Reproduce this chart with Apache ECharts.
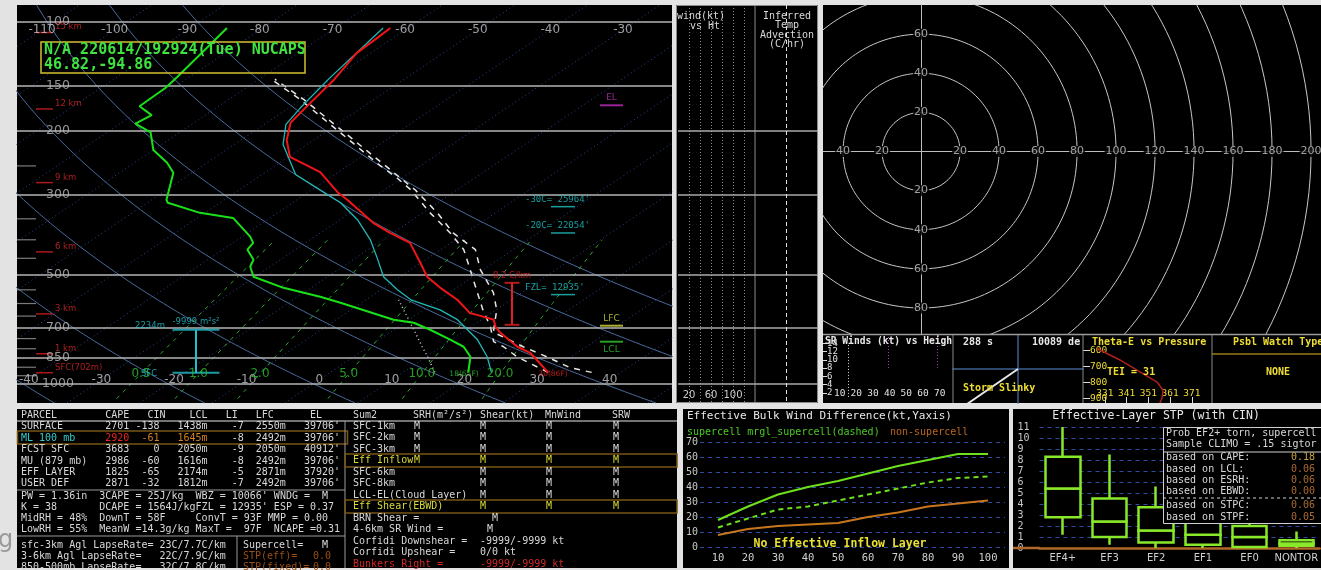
<!DOCTYPE html>
<html>
<head>
<meta charset="utf-8">
<title>NUCAPS sounding</title>
<script src="https://cdn.jsdelivr.net/npm/echarts@6.0.0/dist/echarts.min.js"></script>
<style>
  html, body { margin: 0; padding: 0; background: #e3e3e3; }
  #chart { width: 1321px; height: 570px; }
</style>
</head>
<body>
<div id="chart"></div>
<script>
// ---------- sounding profiles (pressure mb / deg C) ----------
const tempPres = [930, 821, 790, 723, 696, 665, 645, 637, 586, 543, 506, 463, 408, 383, 359, 310, 296, 260, 236, 212, 190, 175, 144, 122, 110, 104];
const tempC = [30.0, 23.5, 20.5, 15.3, 13.4, 11.7, 8.4, 7.0, 2.6, -2.2, -6.3, -10.1, -15.6, -20.4, -24.8, -33.1, -35.9, -42.5, -49.8, -53.7, -56.7, -57.6, -59.6, -61.9, -62.2, -62.4];
const dwptPres = [930, 842, 790, 756, 709, 678, 665, 625, 597, 575, 543, 506, 475, 454, 426, 408, 392, 348, 337, 316, 310, 261, 245, 226, 202, 191, 181, 171, 152, 142, 104];
const dwptC = [19.0, 16.1, 13.1, 9.9, 5.0, 1.3, -2.1, -8.3, -12.9, -16.9, -23.8, -30.2, -32.7, -33.7, -36.6, -37.2, -38.9, -45.1, -50.7, -57.2, -58.0, -62.6, -65.5, -70.0, -74.0, -77.9, -77.4, -80.9, -81.1, -81.7, -84.9];
const wetbPres = [930, 842, 756, 665, 625, 586, 550, 506, 446, 400, 352, 316, 264, 218, 192, 173, 143, 104];
const wetbC = [22.2, 18.4, 13.6, 6.7, 2.3, -3.8, -7.7, -12.3, -17.3, -21.7, -27.6, -33.4, -45.4, -53.3, -57.0, -58.4, -60.5, -63.4];
const parcelPres = [930, 842, 790, 765, 696, 625, 560, 484, 426, 383, 337, 291, 270, 249, 233, 216, 199, 164, 144];
const parcelC = [30.0, 22.5, 18.6, 16.2, 12.7, 8.2, 3.9, -1.8, -6.8, -12.1, -19.0, -26.4, -30.7, -35.7, -39.6, -44.0, -48.8, -60.1, -68.3];
const fcstPres = [930, 903, 842, 790, 720, 625, 560, 484, 426, 383, 337, 291, 249, 199, 164, 144];
const fcstC = [36.0, 32.1, 26.6, 21.3, 14.2, 10.1, 6.1, -0.4, -5.2, -11.7, -18.0, -25.8, -35.0, -48.2, -59.6, -67.8];
const dcapePres = [586, 723, 790, 842, 930];
const dcapeC = [-5.5, 3.6, 7.4, 10.2, 14.4];

const pressLevels = [100, 150, 200, 300, 500, 700, 850, 1000];
const pressTicks = [250, 350, 400, 450, 550, 600, 650, 750, 800, 900, 950];
const topIsoLabels = [-110, -100, -90, -80, -70, -60, -50, -40, -30];
const botIsoLabels = [-40, -30, -20, -10, 0, 10, 20, 30, 40];
const dryAdiabats = [-40, -20, 0, 20, 40, 60, 80];
const mixRatios = [0.5, 1, 2, 5, 10, 20];
const hgtNames = ['15 km', '12 km', '9 km', '6 km', '3 km', '1 km', 'SFC(702m)'];
const hgtPres = [107, 174, 278, 432, 641, 826, 932];
const levelNames = ["-30C= 25964'", "-20C= 22054'", "FZL= 12935'"];
const levelPres = [324, 383, 567];
const markerNames = ['EL', 'LFC', 'LCL'];
const markerPres = [170, 691, 765];
const lapseLayer = [526, 687];
const inflowLayer = [709, 932];

// ---------- side panels ----------
const windLevels = [200, 300, 500, 700, 1000];
const windLabels = [20, 60, 100];
const hodoRings = [20, 40, 60, 80, 100, 120, 140, 160, 180, 200];
const hodoXLabels = [-40, -20, 20, 40, 60, 80, 100, 120, 140, 160, 180, 200];
const hodoYLabels = [60, 40, 20, -20, -40, -60, -80];
const srwLineKt = [15, 39, 68.4];
const srwLineBot = [1, 8, 8];
const srwLineTop = [13.6, 16, 16];
const slinkyX = [0, -0.8];
const slinkyY = [0, -1.05];
const thetaEPres = [585, 600, 662, 737, 800, 850, 900, 931];
const thetaEK = [327.5, 328.7, 337.9, 347.1, 355.0, 357.7, 357.3, 356.3];
const thetaELabels = [331, 341, 351, 361, 371];
const thetaEPLabels = [600, 700, 800, 900];

// ---------- effective bulk wind difference ----------
const ebwdX = [10, 20, 30, 40, 50, 60, 70, 80, 90, 100];
const ebwdSuper = [18, 27, 35, 40, 44, 49, 54, 58, 62, 62];
const ebwdMrgl = [13, 19, 25, 27, 31, 35, 39, 43, 46, 47];
const ebwdNon = [8, 12, 14, 15, 16, 20, 23, 27, 29, 31];

// ---------- effective-layer STP climatology ----------
const stpCats = ['EF4+', 'EF3', 'EF2', 'EF1', 'EF0', 'NONTOR'];
const stpMin = [1.2, 0.3, 0.0, 0.0, 0.0, 0.0];
const stpQ1 = [2.8, 1.0, 0.5, 0.3, 0.1, 0.2];
const stpMed = [5.4, 2.4, 1.6, 1.2, 1.0, 0.4];
const stpQ3 = [8.3, 4.5, 3.7, 2.5, 2.0, 0.7];
const stpMax = [11.0, 8.5, 5.6, 4.0, 3.2, 1.5];
const stpProbNames = ['based on CAPE:', 'based on LCL:', 'based on ESRH:', 'based on EBWD:', 'based on STPC:', 'based on STPF:'];
const stpProbVals = ['0.18', '0.06', '0.06', '0.00', '0.06', '0.05'];

// ---------- text tables ----------
const parcelNames = ['SURFACE', 'ML 100 mb', 'FCST SFC', 'MU (879 mb)', 'EFF LAYER', 'USER DEF'];
const parcelCape = ['2701', '2920', '3683', '2986', '1825', '2871'];
const parcelCin = ['-138', '-61', '0', '-60', '-65', '-32'];
const parcelLcl = ['1438m', '1645m', '2050m', '1616m', '2174m', '1812m'];
const parcelLi = ['-7', '-8', '-9', '-8', '-5', '-7'];
const parcelLfc = ['2550m', '2492m', '2050m', '2492m', '2871m', '2492m'];
const parcelEl = ["39706'", "39706'", "40912'", "39706'", "37920'", "39706'"];
const indexRows = [
  "PW = 1.36in  3CAPE = 25J/kg  WBZ = 10066' WNDG =  M",
  "K = 38       DCAPE = 1564J/kgFZL = 12935' ESP = 0.37",
  "MidRH = 48%  DownT = 58F     ConvT = 93F MMP = 0.00",
  "LowRH = 55%  MeanW =14.3g/kg MaxT =  97F  NCAPE =0.31"
];
const lapseRows = ['sfc-3km Agl LapseRate= 23C/7.7C/km', '3-6km Agl LapseRate=   22C/7.9C/km', '850-500mb LapseRate=   32C/7.8C/km'];
const stpNames = ['Supercell=', 'STP(eff)=', 'STP(fixed)='];
const stpVals = ['M', '0.0', '0.0'];
const sumLayers = ['SFC-1km', 'SFC-2km', 'SFC-3km', 'Eff Inflow', 'SFC-6km', 'SFC-8km', 'LCL-EL(Cloud Layer)', 'Eff Shear(EBWD)'];
const sumSrh = ['M', 'M', 'M', 'M', '', '', '', ''];
const sumShear = ['M', 'M', 'M', 'M', 'M', 'M', 'M', 'M'];
const sumMnWind = ['M', 'M', 'M', 'M', 'M', 'M', 'M', 'M'];
const sumSrw = ['M', 'M', 'M', 'M', 'M', 'M', 'M', 'M'];
const stormNames = ['BRN Shear =', '4-6km SR Wind =', 'Corfidi Downshear =', 'Corfidi Upshear =', 'Bunkers Right ='];
const stormVals = ['M', 'M', '-9999/-9999 kt', '0/0 kt', '-9999/-9999 kt'];

// ---------- skew-T transform ----------
const P_TOP = 89.8, P_BOT = 1130;
const X_MIN = -40.8, X_MAX = 49.4;
const SKEW = 32.26;
const skx = (t, p) => t + SKEW * Math.log(1000 / p);
const prof = (pres, vals) => pres.map((p, i) => [skx(vals[i], p), p]);
// annotations sit in fixed screen columns of the skew-T
const colX = px => X_MIN + (px - 17) * (X_MAX - X_MIN) / 655;
function mixTd(w, p) {
  const e = w * p / (622 + w);
  const l = Math.log(e / 6.112);
  return 243.5 * l / (17.67 - l);
}

const MONO = "'DejaVu Sans Mono', monospace";
const SANS = "'DejaVu Sans', sans-serif";
const CW = 6.02;   // width of one 10px mono character

const series = [];
const lineS = (ai, data, color, width, type, z) => ({
  type: 'line', xAxisIndex: ai, yAxisIndex: ai, data: data, symbol: 'none', silent: true,
  lineStyle: { color: color, width: width, type: type || 'solid' }, z: z || 2
});
const textS = (ai, data, color, size, extra) => Object.assign({
  type: 'scatter', xAxisIndex: ai, yAxisIndex: ai, data: data, symbolSize: 0, silent: true, z: 6,
  label: { show: true, position: 'inside', formatter: '{b}', color: color, fontSize: size, fontFamily: SANS }
}, extra || {});

// isotherms
for (let t = -120; t <= 50; t += 10) {
  series.push(lineS(0, [[skx(t, P_BOT), P_BOT], [skx(t, P_TOP), P_TOP]], '#2a4690', 1, [1, 3], 1));
}
// dry adiabats
dryAdiabats.forEach(th => {
  const pts = [];
  for (let p = P_BOT; p >= P_TOP; p -= 10) {
    pts.push([skx((th + 273.15) * Math.pow(p / 1000, 0.2857) - 273.15, p), p]);
  }
  series.push(lineS(0, pts, '#4a6b9c', 1, 'solid', 1));
});
// mixing ratio lines
mixRatios.forEach(w => {
  const pts = [];
  for (let p = 1100; p >= 400; p -= 50) pts.push([skx(mixTd(w, p), p), p]);
  series.push(lineS(0, pts, '#2fa82f', 1, [4, 5], 1));
});
// pressure lines
series.push({
  type: 'line', xAxisIndex: 0, yAxisIndex: 0, data: [], z: 1,
  markLine: { silent: true, symbol: 'none', label: { show: false }, animation: false,
    lineStyle: { color: '#b4b4b4', width: 1.5, type: 'solid' },
    data: pressLevels.map(p => ({ yAxis: p })) }
});
// pressure ticks on the left edge
series.push({ type: 'scatter', xAxisIndex: 0, yAxisIndex: 0, silent: true, z: 3, symbol: 'rect', symbolSize: [19, 1.2],
  itemStyle: { color: '#9a9a9a' }, data: pressTicks.map(p => [colX(26.5), p]) });
// profiles
series.push(lineS(0, prof(dcapePres, dcapeC), '#d0d0d0', 1.5, [1, 3], 4));
series.push(lineS(0, prof(parcelPres, parcelC), '#e6e6e6', 1.5, [6, 6], 4));
series.push(lineS(0, prof(fcstPres, fcstC), '#e6e6e6', 1.5, [6, 6], 4));
series.push(lineS(0, prof(wetbPres, wetbC), '#21b8b8', 1.3, 'solid', 5));
series.push(lineS(0, prof(dwptPres, dwptC), '#19e019', 2, 'solid', 5));
series.push(lineS(0, prof(tempPres, tempC), '#ee1515', 2, 'solid', 5));

// labels on the skew-T
series.push(textS(0, pressLevels.map(p => ({ value: [colX(58), p], name: String(p) })), '#b8b8b8', 12.5));
series.push(textS(0, topIsoLabels.map(t => ({ value: [skx(t, 105.2), 105.2], name: String(t) })), '#c4c4c4', 12));
series.push(textS(0, botIsoLabels.map(t => ({ value: [skx(t, 975), 975], name: String(t) })), '#c4c4c4', 12));
series.push(textS(0, mixRatios.map(w => ({ value: [skx(mixTd(w, 938), 938), 938], name: w.toFixed(1) })), '#2ec02e', 12));
series.push({
  type: 'scatter', xAxisIndex: 0, yAxisIndex: 0, silent: true, z: 6, symbol: 'rect', symbolSize: [17, 1.5],
  itemStyle: { color: '#d42020' },
  data: hgtPres.map((p, i) => ({ value: [colX(44.5), p], name: hgtNames[i] })),
  label: { show: true, position: [19, -9], formatter: '{b}', color: '#d42828', fontSize: 8.5, fontFamily: SANS }
});
series.push({
  type: 'scatter', xAxisIndex: 0, yAxisIndex: 0, silent: true, z: 6, symbol: 'rect', symbolSize: [24, 1.5],
  itemStyle: { color: '#1fc4c4' },
  data: levelPres.map((p, i) => ({ value: [colX(563), p], name: levelNames[i] })),
  label: { show: true, position: [-26, -11], formatter: '{b}', color: '#1fc4c4', fontSize: 9, fontFamily: MONO }
});
const markerColors = ['#c02cc0', '#d8d838', '#2ec82e'];
series.push({
  type: 'scatter', xAxisIndex: 0, yAxisIndex: 0, silent: true, z: 6, symbol: 'rect', symbolSize: [23, 2],
  data: markerPres.map((p, i) => ({ value: [colX(611.5), p], name: markerNames[i],
    itemStyle: { color: markerColors[i] },
    label: { color: markerColors[i], position: i === 2 ? 'bottom' : 'top' } })),
  label: { show: true, formatter: '{b}', fontSize: 9, distance: 2, fontFamily: SANS }
});
// max lapse-rate layer bracket
series.push(lineS(0, lapseLayer.map(p => [colX(512), p]), '#e02020', 2, 'solid', 6));
series.push({
  type: 'scatter', xAxisIndex: 0, yAxisIndex: 0, silent: true, z: 6, symbol: 'rect', symbolSize: [15, 2],
  itemStyle: { color: '#e02020' },
  data: [{ value: [colX(512), lapseLayer[0]], name: '8.2 C/km' }, { value: [colX(512), lapseLayer[1]], name: '' }],
  label: { show: true, position: 'top', distance: 2, formatter: '{b}', color: '#e02020', fontSize: 8.5, fontFamily: SANS }
});
// effective inflow layer bracket
series.push(lineS(0, inflowLayer.map(p => [colX(196), p]), '#22c0cc', 2, 'solid', 6));
series.push({
  type: 'scatter', xAxisIndex: 0, yAxisIndex: 0, silent: true, z: 6, symbol: 'rect', symbolSize: [47, 2],
  itemStyle: { color: '#22c0cc' },
  data: [{ value: [colX(196), inflowLayer[0]], name: '-9999 m\u00b2s\u00b2' }, { value: [colX(196), inflowLayer[1]], name: '' }],
  label: { show: true, position: 'top', distance: 2, formatter: '{b}', color: '#22c0cc', fontSize: 8.5, fontFamily: SANS }
});
series.push(textS(0, [{ value: [colX(150), 690], name: '2234m' }, { value: [colX(149), 940], name: 'SFC' }], '#22c0cc', 8.5));
series.push(textS(0, [{ value: [colX(553), 942], name: '30(86F)' }], '#e02020', 7.5));
series.push(textS(0, [{ value: [colX(464), 942], name: '18(65F)' }], '#2ec02e', 7.5));

// ---------- wind vs height & temp advection ----------
series.push({
  type: 'line', xAxisIndex: 1, yAxisIndex: 1, data: [], z: 1,
  markLine: { silent: true, symbol: 'none', label: { show: false }, animation: false,
    lineStyle: { color: '#aaaaaa', width: 1.5, type: 'solid' }, data: windLevels.map(p => ({ yAxis: p })) }
});
series.push({
  type: 'line', xAxisIndex: 2, yAxisIndex: 2, data: [], z: 1,
  markLine: { silent: true, symbol: 'none', label: { show: false }, animation: false,
    lineStyle: { color: '#aaaaaa', width: 1.5, type: 'solid' },
    data: windLevels.map(p => ({ yAxis: p })).concat([{ xAxis: 0, lineStyle: { color: '#e0e0e0', width: 1, type: [4, 3] } }]) }
});

// ---------- hodograph ----------
hodoRings.forEach(r => {
  const pts = [];
  for (let a = 0; a <= 360; a += 2) pts.push([r * Math.cos(a * Math.PI / 180), r * Math.sin(a * Math.PI / 180)]);
  series.push(lineS(3, pts, '#c8c8c8', 1, 'solid', 2));
});
series.push({
  type: 'scatter', xAxisIndex: 3, yAxisIndex: 3, symbolSize: 0, silent: true, z: 6,
  data: hodoXLabels.map(v => ({ value: [v, 0], name: String(Math.abs(v)) }))
    .concat(hodoYLabels.map(v => ({ value: [0, v], name: String(Math.abs(v)) }))),
  label: { show: true, position: 'inside', formatter: '{b}', color: '#c8c8c8', fontSize: 11, fontFamily: SANS,
    backgroundColor: '#000', padding: [0, 1] }
});

// ---------- SR winds, slinky, theta-e ----------
series.push({
  type: 'line', xAxisIndex: 4, yAxisIndex: 4, data: [], z: 3,
  markLine: { silent: true, symbol: 'none', label: { show: false }, animation: false,
    data: srwLineKt.map((k, i) => [
      { coord: [k, srwLineBot[i]], lineStyle: { color: i === 0 ? '#dddddd' : '#c030c0', width: 1, type: [1, 2] } },
      { coord: [k, srwLineTop[i]] }]) }
});
series.push(lineS(5, slinkyX.map((x, i) => [x, slinkyY[i]]), '#e8e8e8', 2, 'solid', 4));
series.push(lineS(6, thetaEPres.map((p, i) => [thetaEK[i], p]), '#b01e1e', 1.5, 'solid', 4));

// ---------- EBWD ----------
series.push(lineS(7, ebwdX.map((x, i) => [x, ebwdNon[i]]), '#c8761e', 2, 'solid', 3));
series.push(lineS(7, ebwdX.map((x, i) => [x, ebwdMrgl[i]]), '#6ee01e', 2, [5, 4], 3));
series.push(lineS(7, ebwdX.map((x, i) => [x, ebwdSuper[i]]), '#6ee01e', 2, 'solid', 3));

// ---------- STP boxes (two hollow halves meeting at the median) ----------
const boxStyle = { color: '#000', color0: '#000', borderColor: '#88e82a', borderColor0: '#88e82a', borderColorDoji: '#88e82a', borderWidth: 2.5 };
series.push({ type: 'candlestick', xAxisIndex: 8, yAxisIndex: 8, barWidth: 35, silent: true, itemStyle: boxStyle,
  data: stpCats.map((c, i) => [stpQ1[i], stpMed[i], stpMin[i], stpMed[i]]) });
series.push({ type: 'candlestick', xAxisIndex: 8, yAxisIndex: 8, barWidth: 35, silent: true, itemStyle: boxStyle,
  data: stpCats.map((c, i) => [stpMed[i], stpQ3[i], stpMed[i], stpMax[i]]) });

// ---------- axes ----------
const hidden = { show: false };
const logY = ai => ({ gridIndex: ai, type: 'log', logBase: 10, min: P_TOP, max: P_BOT, inverse: true, show: false });
const xAxis = [
  { gridIndex: 0, type: 'value', min: X_MIN, max: X_MAX, show: false },
  { gridIndex: 1, type: 'value', min: 0, max: 140, interval: 20, axisLine: hidden, axisTick: hidden,
    axisLabel: { inside: true, margin: 3, color: '#cccccc', fontSize: 10, fontFamily: SANS,
      formatter: v => windLabels.indexOf(v) >= 0 ? String(v) : '' },
    splitLine: { show: true, showMinLine: false, showMaxLine: false, lineStyle: { color: '#8a8a8a', type: [1, 2] } } },
  { gridIndex: 2, type: 'value', min: -1, max: 1, show: false },
  { gridIndex: 3, type: 'value', min: -50.3, max: 205.1, axisLine: { onZero: true, lineStyle: { color: '#bdbdbd' } },
    axisTick: hidden, axisLabel: hidden, splitLine: hidden },
  { gridIndex: 4, type: 'value', min: 0, max: 78, interval: 10, axisLine: hidden,
    axisTick: hidden, splitLine: hidden,
    axisLabel: { inside: true, margin: 2, color: '#e0e0e0', fontSize: 9.5, fontFamily: MONO, showMinLabel: false, showMaxLabel: false } },
  { gridIndex: 5, type: 'value', min: -1, max: 1, axisLine: { onZero: true, lineStyle: { color: '#3f5f8f', width: 1.5 } },
    axisTick: hidden, axisLabel: hidden, splitLine: hidden },
  { gridIndex: 6, type: 'value', min: 320.9, max: 380.3, axisLine: hidden, splitLine: hidden,
    axisTick: { show: true, inside: true, length: 6, customValues: thetaELabels, lineStyle: { color: '#dddddd' } },
    axisLabel: { inside: true, margin: 4, color: '#eedd33', fontSize: 9.5, fontFamily: MONO, customValues: thetaELabels } },
  { gridIndex: 7, type: 'value', min: 4, max: 105.67, axisLine: hidden, axisTick: hidden, splitLine: hidden,
    axisLabel: { margin: 6, color: '#d0d0d0', fontSize: 10.5, fontFamily: MONO, customValues: ebwdX } },
  { gridIndex: 8, type: 'category', data: stpCats, axisLine: { lineStyle: { color: '#b0682a', width: 2.5 } },
    axisTick: hidden, axisLabel: { interval: 0, margin: 5, color: '#d0d0d0', fontSize: 10, fontFamily: SANS } }
];
const yAxis = [
  logY(0), logY(1), logY(2),
  { gridIndex: 3, type: 'value', min: -93.3, max: 74.9, axisLine: { onZero: true, lineStyle: { color: '#bdbdbd' } },
    axisTick: hidden, axisLabel: hidden, splitLine: hidden },
  { gridIndex: 4, type: 'value', min: 0, max: 16, interval: 2, axisLine: hidden, splitLine: hidden,
    axisTick: { show: true, inside: true, length: 4, lineStyle: { color: '#dddddd' } },
    axisLabel: { inside: true, margin: 4, color: '#e0e0e0', fontSize: 9, fontFamily: MONO, showMinLabel: false, showMaxLabel: false } },
  { gridIndex: 5, type: 'value', min: -1, max: 1, axisLine: { onZero: true, lineStyle: { color: '#3f5f8f', width: 1.5 } },
    axisTick: hidden, axisLabel: hidden, splitLine: hidden },
  { gridIndex: 6, type: 'value', min: 506, max: 931, inverse: true, axisLine: hidden, splitLine: hidden,
    axisTick: { show: true, inside: true, length: 7, customValues: thetaEPLabels, lineStyle: { color: '#dddddd' } },
    axisLabel: { inside: true, margin: 7, color: '#eedd33', fontSize: 9.5, fontFamily: MONO, customValues: thetaEPLabels } },
  { gridIndex: 7, type: 'value', min: 0, max: 70, interval: 10, axisLine: hidden, axisTick: hidden,
    axisLabel: { margin: 2, color: '#c8c8c8', fontSize: 10, fontFamily: MONO },
    splitLine: { show: true, lineStyle: { color: '#2d4ea0', type: [4, 4] } } },
  { gridIndex: 8, type: 'value', min: 0, max: 11, interval: 1, axisLine: hidden, axisTick: hidden,
    axisLabel: { margin: 22, align: 'left', color: '#c8c8c8', fontSize: 10, fontFamily: MONO },
    splitLine: { show: true, lineStyle: { color: '#2d4ea0', type: [4, 4] } } }
];

// ---------- graphic: panels, titles, tables ----------
const g = [];
const rect = (x, y, w, h, fill, stroke, lw, z) => ({ type: 'rect', z: z, shape: { x: x, y: y, width: w, height: h },
  style: { fill: fill || 'none', stroke: stroke || 'none', lineWidth: lw || 1 } });
const seg = (x1, y1, x2, y2, stroke, lw, dash, z) => ({ type: 'line', z: z || 19,
  shape: { x1: x1, y1: y1, x2: x2, y2: y2 }, style: { stroke: stroke, lineWidth: lw || 1, lineDash: dash || null } });
const tx = (text, x, y, fill, size, opt) => {
  opt = opt || {};
  return { type: 'text', z: opt.z || 20, style: { text: text, x: x, y: y, fill: fill,
    font: (opt.bold ? 'bold ' : '') + size + 'px ' + (opt.family || MONO), align: opt.align || 'left', verticalAlign: 'middle' } };
};

// black panels
[[17, 5, 655, 398], [676, 5, 142, 398], [823, 5, 498, 329], [823, 335, 498, 68],
 [17, 409, 660, 159], [683, 409, 326, 159], [1013, 409, 308, 159]].forEach(r => g.push(rect(r[0], r[1], r[2], r[3], '#000', null, 1, -10)));
g.push(rect(676.5, 5.5, 141, 397, 'none', '#8a8a8a', 1, 3));
g.push(seg(755, 5, 755, 403, '#8a8a8a', 1, null, 3));
g.push(seg(823, 334.5, 1321, 334.5, '#9a9a9a', 1.5, null, 3));
[953, 1083, 1212].forEach(x => g.push(seg(x, 335, x, 403, '#8a8a8a', 1, null, 3)));

// skew-T title box
g.push(rect(41, 42, 264, 31, 'none', '#d4c030', 1.5, 20));
g.push(tx('N/A 220614/192924(Tue) NUCAPS', 44, 50, '#3fe23f', 15, { bold: true }));
g.push(tx('46.82,-94.86', 44, 65, '#3fe23f', 15, { bold: true }));

// wind / advection titles
g.push(tx('wind(kt)', 701, 16, '#d8d8d8', 10, { align: 'center' }));
g.push(tx('vs Ht', 705, 26, '#d8d8d8', 10, { align: 'center' }));
['Inferred', 'Temp', 'Advection', '(C/hr)'].forEach((s, i) => g.push(tx(s, 787, 16 + i * 9.5, '#d8d8d8', 10, { align: 'center' })));

// small row titles
g.push(tx('SR Winds (kt) vs Heigh', 825, 341, '#e8e8e8', 9.6, { bold: true }));
g.push(tx('288 s', 963, 342, '#e8e8e8', 10, { bold: true }));
g.push(tx('10089 de', 1032, 342, '#e8e8e8', 10, { bold: true }));
g.push(tx('Storm Slinky', 963, 388, '#eedd33', 10, { bold: true }));
g.push(tx('Theta-E vs Pressure', 1092, 342, '#eedd33', 10, { bold: true }));
g.push(tx('TEI = 31', 1107, 372, '#eedd33', 10, { bold: true }));
g.push(tx('Psbl Watch Type', 1233, 342, '#eedd33', 10, { bold: true }));
g.push(seg(1212, 354, 1321, 354, '#9a7a18', 1.5, null, 19));
g.push(tx('NONE', 1278, 372, '#eedd33', 10, { bold: true, align: 'center' }));

// parcel table, laid out on a 10px monospace character grid starting at x=21
const TC = '#d8d8d8';
const cx = c => 21 + c * CW;
g.push(rect(17.5, 431, 330, 13, 'none', '#7a5514', 1.5, 19));
g.push(seg(17, 421, 677, 421, '#e8e8e8', 1.2));
g.push(seg(17, 490, 345, 490, '#9a9a9a', 1));
g.push(seg(17, 536, 345, 536, '#9a9a9a', 1));
g.push(seg(345, 421, 345, 568, '#9a9a9a', 1));
g.push(seg(237, 536, 237, 568, '#9a9a9a', 1));
[['PARCEL', 0], ['CAPE', 14], ['CIN', 21], ['LCL', 28], ['LI', 34], ['LFC', 39], ['EL', 48]]
  .forEach(h => g.push(tx(h[0], cx(h[1]), 415, TC, 10)));
const rowY = [426, 438, 449, 461, 472, 483];
parcelNames.forEach((n, i) => {
  const ml = i === 1;
  g.push(tx(n, cx(0), rowY[i], ml ? '#33cccc' : TC, 10));
  g.push(tx(parcelCape[i], cx(14), rowY[i], ml ? '#ee2020' : TC, 10));
  g.push(tx(parcelCin[i], cx(23), rowY[i], ml ? '#d08020' : TC, 10, { align: 'right' }));
  g.push(tx(parcelLcl[i], cx(26), rowY[i], ml ? '#d08020' : TC, 10));
  g.push(tx(parcelLi[i], cx(37), rowY[i], TC, 10, { align: 'right' }));
  g.push(tx(parcelLfc[i], cx(39), rowY[i], TC, 10));
  g.push(tx(parcelEl[i], cx(47), rowY[i], TC, 10));
});
indexRows.forEach((s, i) => g.push(tx(s, cx(0), 496 + i * 11, TC, 10)));
lapseRows.forEach((s, i) => {
  g.push(tx(s, cx(0), 545 + i * 11, TC, 10));
  g.push(tx(stpNames[i], 243, 545 + i * 11, i === 0 ? TC : '#9a4e12', 10));
  g.push(tx(stpVals[i], i === 0 ? 322 : 313, 545 + i * 11, i === 0 ? TC : '#9a4e12', 10));
});

// summary table
g.push(rect(345, 454, 332, 13, 'none', '#7a5514', 1.5, 19));
g.push(rect(345, 500, 332, 13, 'none', '#7a5514', 1.5, 19));
[['Sum2', 353], ['SRH(m\u00b2/s\u00b2)', 413], ['Shear(kt)', 480], ['MnWind', 545], ['SRW', 612]]
  .forEach(h => g.push(tx(h[0], h[1], 415, TC, 10)));
sumLayers.forEach((n, i) => {
  const eff = i === 3 || i === 7;
  const c = eff ? '#d8d838' : TC;
  const y = 426 + i * 11.5;
  g.push(tx(n, 353, y, c, 10));
  if (sumSrh[i]) g.push(tx(sumSrh[i], 414, y, c, 10));
  g.push(tx(sumShear[i], 480, y, c, 10));
  g.push(tx(sumMnWind[i], 546, y, c, 10));
  g.push(tx(sumSrw[i], 613, y, c, 10));
});
stormNames.forEach((n, i) => {
  const c = i === 4 ? '#d02828' : TC;
  const y = 518 + i * 11.5;
  g.push(tx(n, 353, y, c, 10));
  g.push(tx(stormVals[i], i === 0 ? 492 : (i === 1 ? 487 : 480), y, c, 10));
});

// EBWD texts
g.push(tx('Effective Bulk Wind Difference(kt,Yaxis)', 687, 416, '#e8e8e8', 11));
g.push(tx('supercell mrgl_supercell(dashed)', 687, 432, '#4cc828', 10));
g.push(tx('non-supercell', 890, 432, '#b8661e', 10));
g.push(tx('No Effective Inflow Layer', 840, 544, '#e8e030', 11.5, { bold: true, align: 'center' }));

// STP texts and inset
g.push(seg(1013, 548, 1040, 548, '#b0682a', 2.5, null, 4));
g.push(tx('Effective-Layer STP (with CIN)', 1156, 416, '#e8e8e8', 11.5, { align: 'center' }));
g.push(rect(1163.5, 427.5, 160, 96, '#000', '#d0d0d0', 1, 30));
g.push(tx('Prob EF2+ torn, supercell', 1166, 433, '#d8d8d8', 10, { z: 31 }));
g.push(tx('Sample CLIMO = .15 sigtor', 1166, 444, '#d8d8d8', 10, { z: 31 }));
g.push(seg(1163, 452, 1321, 452, '#d0d0d0', 1, null, 31));
g.push(seg(1163, 498, 1321, 498, '#d0d0d0', 1, [3, 3], 31));
const probY = [457, 469, 480, 491, 505, 517];
stpProbNames.forEach((n, i) => {
  g.push(tx(n, 1166, probY[i], '#d8d8d8', 10, { z: 31 }));
  g.push(tx(stpProbVals[i], 1315, probY[i], i === 0 ? '#c8a040' : '#a86a30', 10, { z: 31, align: 'right' }));
});

// stray glyph of the window behind, at the far left
g.push(tx('g', -2, 541, '#9a9a9a', 24, { family: SANS }));

const chart = echarts.init(document.getElementById('chart'));
chart.setOption({
  backgroundColor: '#e3e3e3',
  animation: false,
  grid: [
    { left: 17, top: 5, width: 655, height: 398 },
    { left: 678, top: 5, width: 77, height: 398 },
    { left: 755, top: 5, width: 63, height: 398 },
    { left: 823, top: 5, width: 498, height: 329 },
    { left: 823, top: 335, width: 130, height: 66 },
    { left: 953, top: 335, width: 130, height: 68 },
    { left: 1083, top: 335, width: 129, height: 68 },
    { left: 700, top: 442, width: 305, height: 105 },
    { left: 1039.5, top: 427, width: 282, height: 121 }
  ],
  xAxis: xAxis,
  yAxis: yAxis,
  series: series,
  graphic: g
});
</script>
</body>
</html>
